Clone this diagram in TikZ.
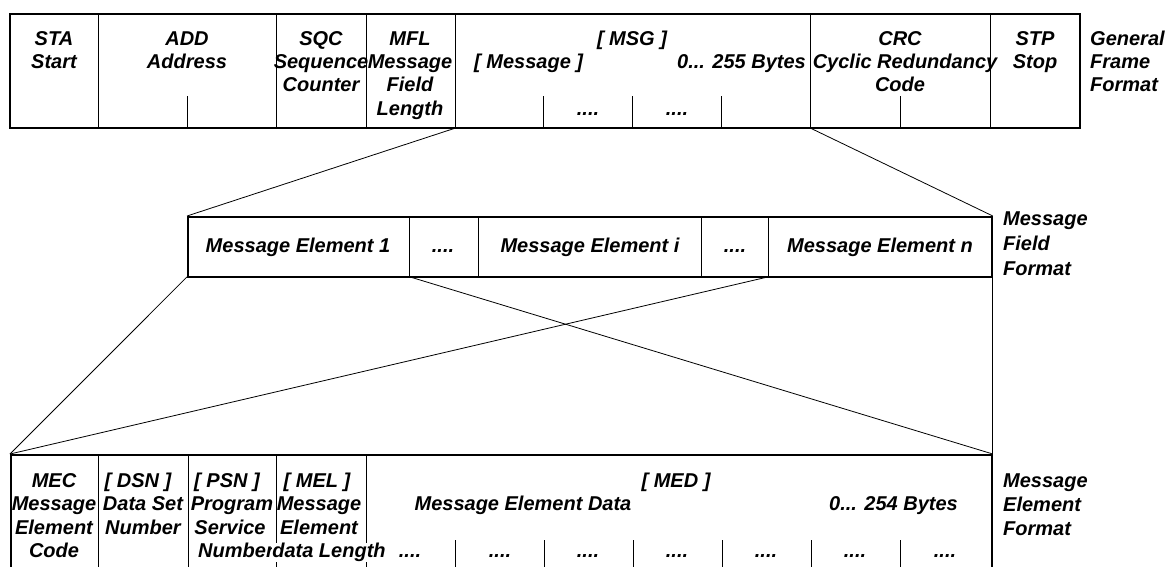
\documentclass[tikz,border=0pt]{standalone}
\usepackage{fontspec}
\setmainfont{Liberation Sans}
\begin{document}
\begin{tikzpicture}[x=1pt,y=-1pt,
  cell/.style={draw,line width=0.9pt,rectangle,inner sep=0pt,anchor=north west},
  frame/.style={draw,line width=1.8pt,rectangle,inner sep=0pt,anchor=north west},
  conn/.style={line width=0.8pt},
  tick/.style={line width=0.9pt},
  lbl/.style={inner sep=0pt,anchor=base,font=\bfseries\itshape\fontsize{20}{23}\selectfont},
  lbll/.style={lbl,anchor=base west},
  lblr/.style={lbl,anchor=base east}]
\useasboundingbox (0,0) rectangle (1174,566);
% ---------- General frame ----------
\node[cell,minimum width=89pt,minimum height=114pt] (sta) at (9,13) {};
\node[cell,minimum width=178pt,minimum height=114pt] (add) at (98,13) {};
\node[cell,minimum width=90pt,minimum height=114pt] (sqc) at (276,13) {};
\node[cell,minimum width=89pt,minimum height=114pt] (mfl) at (366,13) {};
\node[cell,minimum width=355pt,minimum height=114pt] (msg) at (455,13) {};
\node[cell,minimum width=180pt,minimum height=114pt] (crc) at (810,13) {};
\node[cell,minimum width=89pt,minimum height=114pt] (stp) at (990,13) {};
\node[frame,minimum width=1070pt,minimum height=114pt] (gf) at (9,13) {};
\draw[tick] (add.south) -- ++(0,-32);
\draw[tick] (crc.south) -- ++(0,-32);
\foreach \k in {1,2,3} \draw[tick] ([xshift=\k*88.75pt]msg.south west) -- ++(0,-32);
% texts
\node[lbl] (t1) at (54,45) {STA};
\node[lbl] (t2) at (54,68) {Start};
\node[lbl] (t3) at (187,45) {ADD};
\node[lbl] (t4) at (187,68) {Address};
\node[lbl] (t5) at (321,45) {SQC};
\node[lbl] (t6) at (321,68) {Sequence};
\node[lbl] (t7) at (321,91.5) {Counter};
\node[lbl] (t8) at (410,45) {MFL};
\node[lbl] (t9) at (410,68) {Message};
\node[lbl] (t10) at (410,91.5) {Field};
\node[lbl] (t11) at (410,115) {Length};
\node[lbl] (t12) at (632,45) {[ MSG ]};
\node[lbll] (t13) at (474,68) {[ Message ]};
\node[lblr] (t14) at (806,68) {0... 255 Bytes};
\node[lbl] (t15) at (588,115) {....};
\node[lbl] (t16) at (677,115) {....};
\node[lbl] (t17) at (900,45) {CRC};
\node[lbl] (t18) at (905,68) {Cyclic Redundancy};
\node[lbl] (t19) at (900,91.5) {Code};
\node[lbl] (t20) at (1035,45) {STP};
\node[lbl] (t21) at (1035,68) {Stop};
\node[lbll] (t22) at (1090,45) {General};
\node[lbll] (t23) at (1090,68) {Frame};
\node[lbll] (t24) at (1090,91.5) {Format};
% ---------- Message field ----------
\node[cell,minimum width=222pt,minimum height=60pt] (me1) at (187,216) {};
\node[cell,minimum width=69pt,minimum height=60pt] (d1) at (409,216) {};
\node[cell,minimum width=223pt,minimum height=60pt] (mei) at (478,216) {};
\node[cell,minimum width=67pt,minimum height=60pt] (d2) at (701,216) {};
\node[cell,minimum width=223pt,minimum height=60pt] (men) at (768,216) {};
\node[frame,minimum width=804pt,minimum height=60pt] (mf) at (187,216) {};
\node[lbl] (m1) at (298,252) {Message Element 1};
\node[lbl] (m2) at (443,252) {....};
\node[lbl] (m3) at (590,252) {Message Element i};
\node[lbl] (m4) at (735,252) {....};
\node[lbl] (m5) at (880,252) {Message Element n};
\node[lbll] (m6) at (1003,225) {Message};
\node[lbll] (m7) at (1003,250) {Field};
\node[lbll] (m8) at (1003,275) {Format};
% ---------- Message element ----------
\node[cell,minimum width=88pt,minimum height=120pt] (mec) at (10,454) {};
\node[cell,minimum width=90pt,minimum height=120pt] (dsn) at (98,454) {};
\node[cell,minimum width=88pt,minimum height=120pt] (psn) at (188,454) {};
\node[cell,minimum width=90pt,minimum height=120pt] (mel) at (276,454) {};
\node[cell,minimum width=625pt,minimum height=120pt] (med) at (366,454) {};
\node[frame,minimum width=981pt,minimum height=120pt] (mef) at (10,454) {};
\foreach \k in {1,...,6} \draw[tick] ([shift={(\k*89,86)}]med.north west) -- ++(0,34);
\node[lbl] (e1) at (54,487) {MEC};
\node[lbl] (e2) at (54,510.5) {Message};
\node[lbl] (e3) at (54,534) {Element};
\node[lbl] (e4) at (54,557.5) {Code};
\node[lbl] (e5) at (138,487) {[ DSN ]};
\node[lbl] (e6) at (143,510.5) {Data Set};
\node[lbl] (e7) at (143,534) {Number};
\node[lbl] (e8) at (227,487) {[ PSN ]};
\node[lbl] (e9) at (232,510.5) {Program};
\node[lbl] (e10) at (230,534) {Service};
\node[lbl] (e11) at (236,557.5) {Number};
\node[lbl] (e12) at (317,487) {[ MEL ]};
\node[lbl] (e13) at (319,510.5) {Message};
\node[lbl] (e14) at (319,534) {Element};
\node[lbl,fill=white,inner sep=0pt] (e15) at (329,557.5) {data Length};
\node[lbl] (e16) at (676,487) {[ MED ]};
\node[lbl] (e17) at (523,510.5) {Message Element Data};
\node[lblr] (e18) at (958,510.5) {0... 254 Bytes};
\foreach \x in {410,500,588,677,766,855,945} \node[lbl] at (\x,557.5) {....};
\node[lbll] (e19) at (1003,487) {Message};
\node[lbll] (e20) at (1003,511) {Element};
\node[lbll] (e21) at (1003,535) {Format};
% ---------- connectors ----------
\draw[conn] (mfl.south east) -- (mf.north west);
\draw[conn] (crc.south west) -- (mf.north east);
\draw[conn] (me1.south west) -- (mef.north west);
\draw[conn] (men.south west) -- (mef.north west);
\draw[conn] (me1.south east) -- (mef.north east);
\draw[conn] (mf.south east) -- (mef.north east);
\end{tikzpicture}
\end{document}
